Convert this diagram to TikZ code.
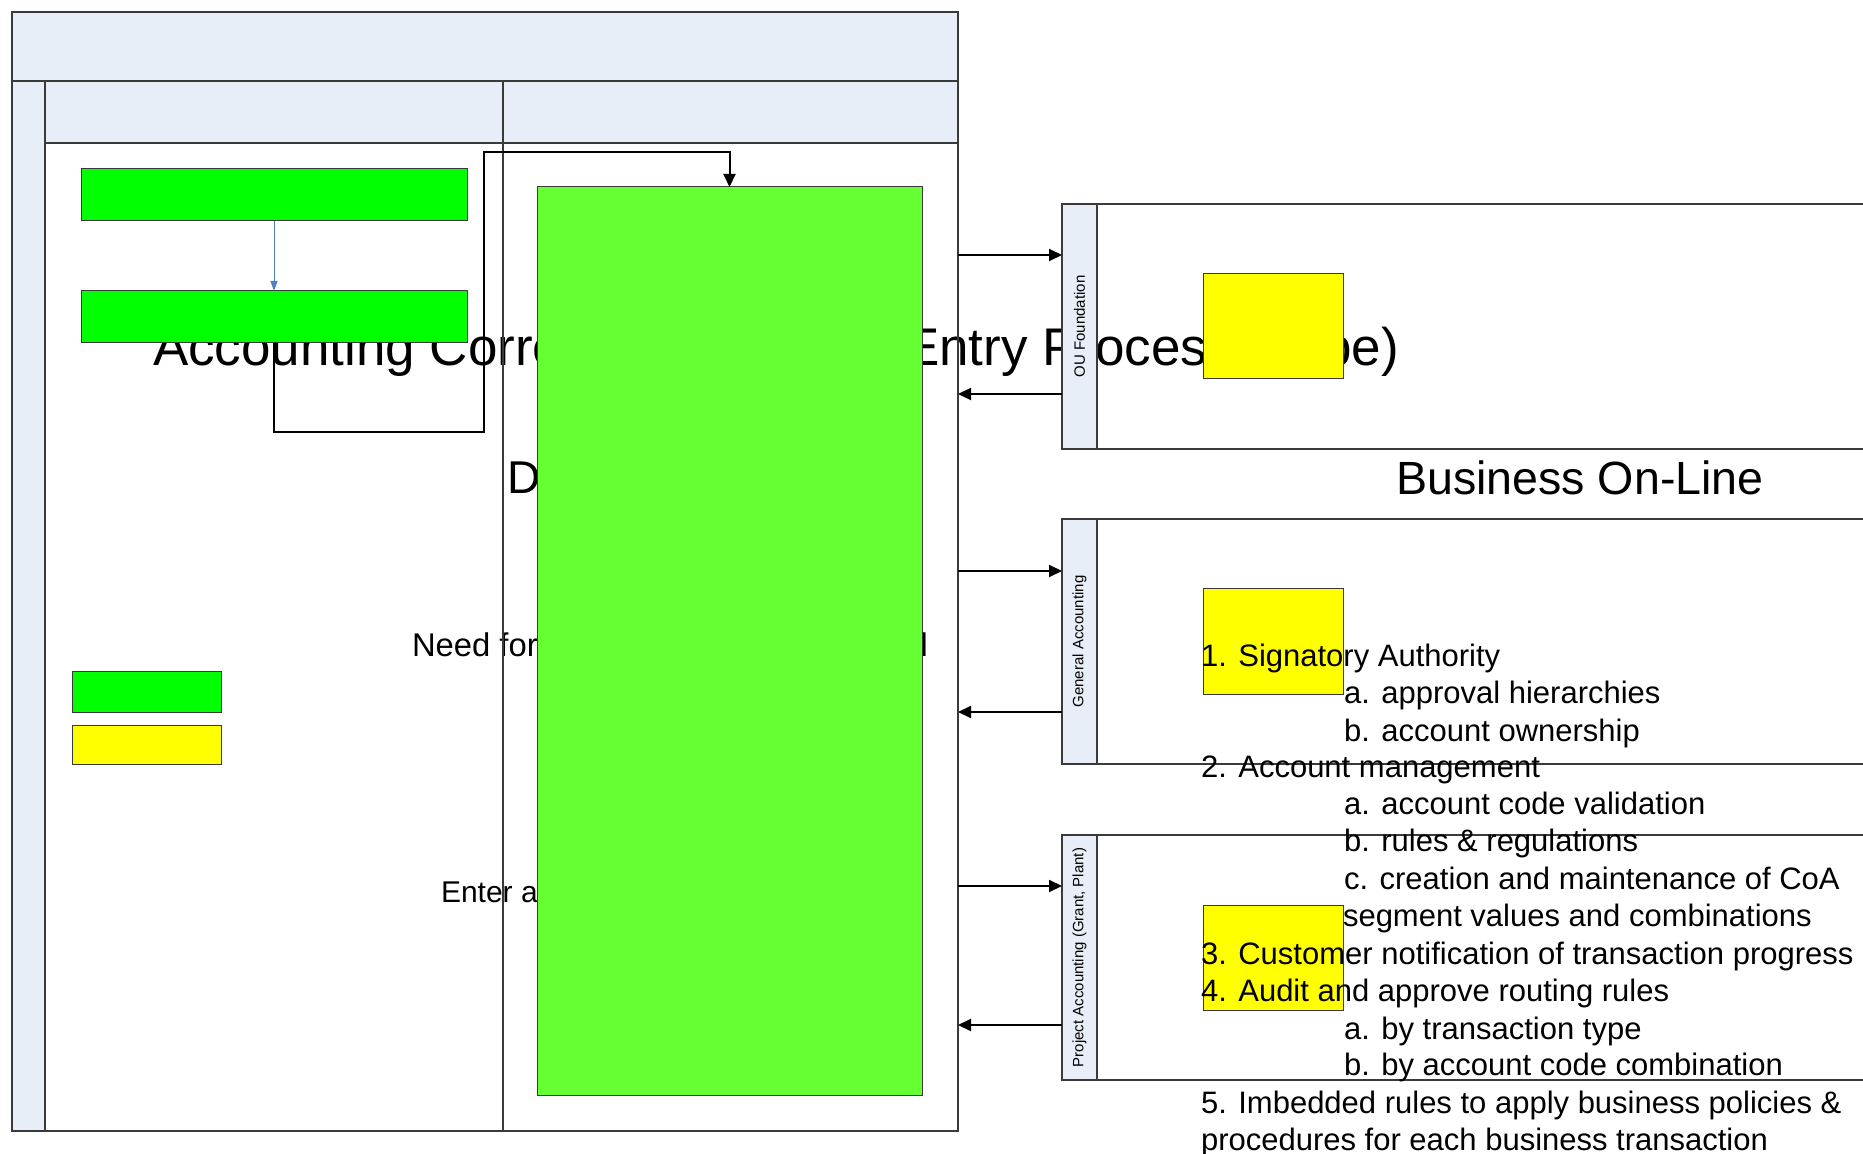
\documentclass[tikz,border=0pt]{standalone}
\usepackage{fontspec}
\setmainfont{Liberation Sans}
\usetikzlibrary{fit,arrows.meta}
\definecolor{lane}{HTML}{E8EEF7}
\definecolor{grn}{HTML}{00FF00}
\definecolor{biggrn}{HTML}{66FF33}
\definecolor{ylw}{HTML}{FFFF00}
\definecolor{bluel}{HTML}{4F81BD}
\definecolor{edgec}{HTML}{3A3A3A}
\newcommand{\setfs}[1]{\fontsize{#1}{#1}\selectfont}
\begin{document}
\begin{tikzpicture}[x=0.5pt,y=-0.5pt,
  every node/.style={inner sep=0pt, outer sep=0pt},
  laneF/.style={fill=lane, draw=edgec, line width=0.6pt},
  frm/.style={draw=edgec, line width=0.6pt},
  poolb/.style={draw=edgec, line width=0.7pt},
  gbox/.style={fill=grn, draw=edgec, line width=0.5pt},
  bigbox/.style={fill=biggrn, draw=edgec, line width=0.5pt},
  ybox/.style={fill=ylw, draw=edgec, line width=0.5pt},
  txt/.style={anchor=base west, text=black},
  lst/.style={anchor=base west, font=\setfs{15.5pt}},
  plbl/.style={rotate=90, font=\setfs{7.5pt}},
  arr/.style={draw=black, line width=1pt, -{Triangle[length=6.5pt,width=6pt]}},
  barr/.style={draw=bluel, line width=0.5pt, -{Triangle[length=5pt,width=3.5pt]}},
  conn/.style={draw=black, line width=1pt},
]
\useasboundingbox (0,0) rectangle (1863,1154);
\clip (0,0) rectangle (1863,1154);
\fill[white] (0,0) rectangle (1863,1154);

% lane header fills
\node[laneF, fit={(12,12)(958,81)}] (head) {};
\node[laneF, fit={(12,81)(45,1131)}] (lstrip) {};
\node[laneF, fit={(45,81)(503,143)}] (h1) {};
\node[laneF, fit={(503,81)(958,143)}] (h2) {};

% texts lying beneath the shapes
\node[txt, font=\setfs{26.5pt}] (ttl) at (153,366) {Accounting Corrections/Journal Entry Process (Type)};
\node[txt, font=\setfs{23pt}] (dtxt) at (507,494) {Department};
\node[txt, font=\setfs{16.4pt}] (need) at (412,656) {Need for accounting entry identified};
\node[txt, font=\setfs{15pt}] (enter) at (441,902) {Enter accounting correction};

% frame lines
\node[frm, fit={(12,81)(958,1131)}] (frame) {};
\draw[frm, line width=1pt] (frame.north west) -- (frame.north east);
\draw[frm] (h2.south west) -- (h2.south west |- frame.south);

% left lane boxes
\node[gbox, fit={(81,169)(467,221)}] (g1) {};
\node[gbox, fit={(81,291)(467,343)}] (g2) {};
\node[gbox, fit={(72,671)(221,712)}] (leg1) {};
\node[ybox, fit={(72,725)(221,764)}] (leg2) {};

% big box
\node[bigbox, fit={(537,187)(922,1095)}] (big) {};

% connectors
\draw[barr] (g1.south) -- (g2.north);
\coordinate (c1) at (484,432);
\coordinate (c2) at (484,152);
\draw[conn, -{Triangle[length=6.5pt,width=6pt]}] (g2.south) |- (c1) -- (c2) -| (big.north);

% pools
\node[laneF, fit={(1062,204)(1097,449)}] (ou) {};
\node[poolb, fit={(1097,204)(1900,449)}] (oubody) {};
\node[plbl] (oulbl) at (ou.center) {OU Foundation};
\node[laneF, fit={(1062,519)(1097,764)}] (ga) {};
\node[poolb, fit={(1097,519)(1900,764)}] (gabody) {};
\node[plbl] (galbl) at (ga.center) {General Accounting};
\node[laneF, fit={(1062,835)(1097,1080)}] (pa) {};
\node[poolb, fit={(1097,835)(1900,1080)}] (pabody) {};
\node[plbl] (palbl) at (pa.center) {Project Accounting (Grant, Plant)};

% arrows between lane and pools
\coordinate (y1) at (0,255);
\coordinate (y2) at (0,394);
\coordinate (y3) at (0,571);
\coordinate (y4) at (0,712);
\coordinate (y5) at (0,886);
\coordinate (y6) at (0,1025);
\draw[arr] (frame.east |- y1) -- (ou.west |- y1);
\draw[arr] (ou.west |- y2) -- (frame.east |- y2);
\draw[arr] (frame.east |- y3) -- (ga.west |- y3);
\draw[arr] (ga.west |- y4) -- (frame.east |- y4);
\draw[arr] (frame.east |- y5) -- (pa.west |- y5);
\draw[arr] (pa.west |- y6) -- (frame.east |- y6);

% yellow boxes
\node[ybox, fit={(1203,274)(1343,379)}] (y_ou) {};
\node[ybox, fit={(1203,589)(1343,694)}] (y_ga) {};
\node[ybox, fit={(1203,905)(1343,1010)}] (y_pa) {};

% business text
\node[txt, font=\setfs{23.3pt}] (bol) at (1396,495) {Business On-Line};

% list
\node[lst] (l1) at (1201,666) {1. Signatory Authority};
\node[lst] (l2) at (1344,703) {a. approval hierarchies};
\node[lst] (l3) at (1344,741) {b. account ownership};
\node[lst] (l4) at (1201,777) {2. Account management};
\node[lst] (l5) at (1344,814) {a. account code validation};
\node[lst] (l6) at (1344,851) {b. rules \& regulations};
\node[lst] (l7) at (1344,889) {c. creation and maintenance of CoA};
\node[lst] (l8) at (1343,926) {segment values and combinations};
\node[lst] (l9) at (1201,964) {3. Customer notification of transaction progress};
\node[lst] (l10) at (1201,1001) {4. Audit and approve routing rules};
\node[lst] (l11) at (1344,1039) {a. by transaction type};
\node[lst] (l12) at (1344,1075) {b. by account code combination};
\node[lst] (l13) at (1201,1113) {5. Imbedded rules to apply business policies \&};
\node[lst] (l14) at (1201,1150) {procedures for each business transaction};
\end{tikzpicture}
\end{document}
